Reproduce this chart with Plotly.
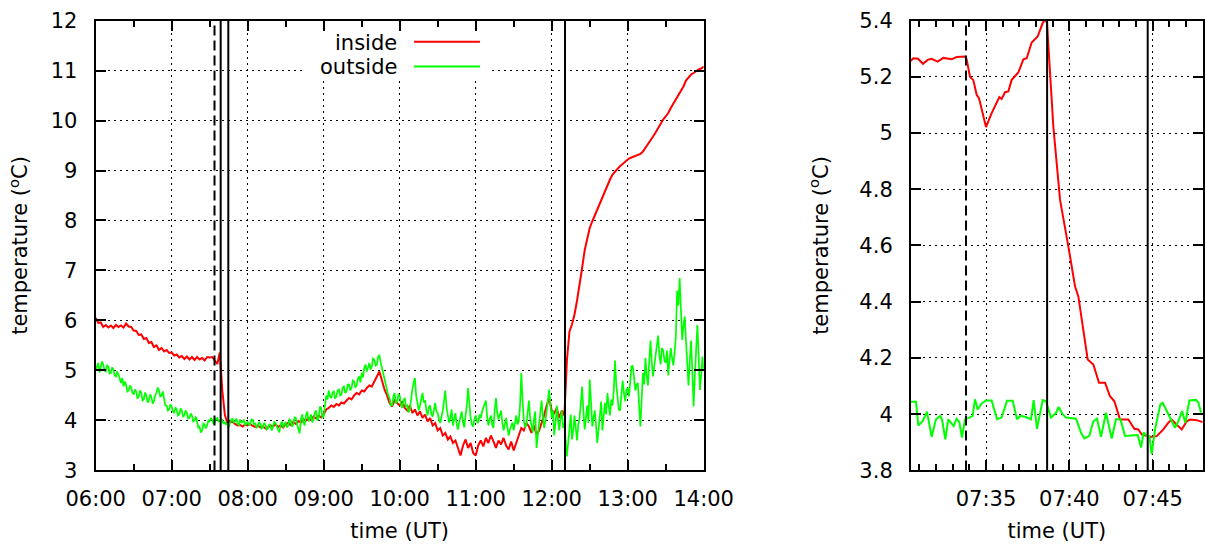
import pandas as pd
import plotly.graph_objects as go

# Serie interior: una muestra cada 2 minutos de 06:00 a 14:00 (una fila = media hora)
inicio = "2000-01-01 06:00"
paso_inside = 2
paso_outside = 1

inside = [
    6.05, 5.95, 5.96, 5.87, 5.91, 5.86, 5.90, 5.85, 5.91, 5.87, 5.90, 5.86, 5.94, 5.88, 5.87,
    5.80, 5.79, 5.71, 5.72, 5.63, 5.65, 5.55, 5.57, 5.47, 5.50, 5.41, 5.45, 5.38, 5.41, 5.35,
    5.36, 5.30, 5.32, 5.26, 5.29, 5.23, 5.28, 5.22, 5.27, 5.21, 5.27, 5.22, 5.25, 5.20, 5.27,
    5.26, 5.27, 5.19, 5.13, 5.36, 4.59, 4.11, 3.95, 3.98, 3.97, 3.93, 3.90, 3.91, 3.88, 3.92,
    3.90, 3.93, 3.89, 3.87, 3.90, 3.86, 3.88, 3.84, 3.86, 3.90, 3.88, 3.92, 3.87, 3.90, 3.86,
    3.93, 3.95, 3.91, 3.97, 3.93, 3.99, 3.96, 4.02, 4.00, 4.05, 4.01, 4.08, 4.04, 4.10, 4.06,
    4.12, 4.22, 4.25, 4.30, 4.27, 4.33, 4.30, 4.36, 4.34, 4.40, 4.45, 4.42, 4.50, 4.55, 4.52,
    4.60, 4.58, 4.65, 4.70, 4.68, 4.78, 4.85, 4.98, 4.80, 4.62, 4.50, 4.35, 4.28, 4.40, 4.35,
    4.30, 4.38, 4.25, 4.20, 4.30, 4.15, 4.22, 4.10, 4.18, 4.05, 4.12, 3.98, 4.05, 3.90, 3.95,
    3.80, 3.85, 3.70, 3.75, 3.62, 3.68, 3.55, 3.60, 3.45, 3.30, 3.50, 3.62, 3.45, 3.55, 3.35,
    3.30, 3.50, 3.60, 3.48, 3.65, 3.55, 3.70, 3.58, 3.45, 3.60, 3.52, 3.65, 3.50, 3.42, 3.58,
    3.40, 3.55, 3.70, 3.85, 3.80, 3.95, 3.88, 3.75, 3.90, 3.72, 3.80, 3.95, 4.10, 4.30, 4.45,
    4.20, 4.15, 4.25, 4.05, 4.20, 4.10, 5.20, 5.78, 5.92, 6.12, 6.40, 6.70, 7.05, 7.40, 7.65,
    7.85, 7.98, 8.10, 8.22, 8.34, 8.46, 8.60, 8.70, 8.82, 8.92, 8.98, 9.04, 9.09, 9.13, 9.18,
    9.22, 9.25, 9.27, 9.28, 9.30, 9.33, 9.38, 9.45, 9.52, 9.60, 9.68, 9.76, 9.85, 9.96, 10.02,
    10.08, 10.15, 10.25, 10.34, 10.42, 10.50, 10.58, 10.68, 10.80, 10.86, 10.92, 10.95, 10.99, 11.02, 11.04,
    11.08,
]

# Serie exterior: una muestra por minuto (una fila = media hora)
outside = [
    5.00, 5.08, 5.15, 4.96, 5.05, 5.18, 5.12, 5.00, 4.98, 5.10, 5.08, 4.94, 4.95, 5.06, 5.02,
    4.90, 4.88, 4.98, 4.92, 4.80, 4.75, 4.85, 4.68, 4.78, 4.72, 4.58, 4.60, 4.70, 4.66, 4.55,
    4.52, 4.62, 4.58, 4.44, 4.48, 4.60, 4.55, 4.40, 4.42, 4.56, 4.50, 4.36, 4.40, 4.52, 4.47,
    4.34, 4.38, 4.50, 4.55, 4.66, 4.60, 4.48, 4.50, 4.58, 4.42, 4.30, 4.30, 4.20, 4.22, 4.32,
    4.28, 4.18, 4.15, 4.26, 4.22, 4.10, 4.12, 4.24, 4.20, 4.08, 4.10, 4.20, 4.15, 4.04, 4.05,
    4.14, 4.10, 3.98, 4.00, 4.08, 3.98, 3.86, 3.88, 3.76, 3.80, 3.94, 3.92, 3.84, 3.90, 4.00,
    3.98, 4.04, 4.02, 3.94, 3.96, 4.03, 4.05, 3.98, 3.99, 4.04, 4.00, 3.93, 3.97, 3.92, 3.93,
    3.86, 3.95, 4.02, 4.03, 3.96, 3.98, 4.04, 3.94, 3.90, 4.02, 3.96, 3.96, 4.02, 3.90, 3.95,
    3.98, 3.90, 3.93, 4.02, 4.01, 3.92, 3.95, 3.86, 3.88, 3.96, 3.94, 3.84, 3.86, 3.95, 3.92,
    3.82, 3.84, 3.93, 3.90, 3.80, 3.88, 3.97, 3.95, 3.86, 3.82, 3.76, 3.92, 3.98, 3.86, 3.94,
    3.96, 3.86, 3.90, 4.02, 4.00, 3.88, 3.92, 4.06, 4.05, 3.92, 3.85, 3.74, 4.02, 4.12, 3.96,
    3.90, 4.10, 4.18, 3.98, 4.06, 4.12, 3.96, 4.02, 4.15, 4.20, 4.00, 4.05, 4.28, 4.25, 4.05,
    4.08, 4.30, 4.50, 4.42, 4.60, 4.48, 4.45, 4.56, 4.58, 4.44, 4.48, 4.60, 4.62, 4.50, 4.52,
    4.66, 4.68, 4.55, 4.58, 4.72, 4.72, 4.60, 4.65, 4.80, 4.78, 4.66, 4.70, 4.84, 4.88, 4.76,
    4.95, 4.86, 5.05, 5.12, 4.98, 5.06, 5.15, 5.02, 5.08, 5.24, 5.22, 5.10, 5.12, 5.28, 5.30,
    5.16, 5.05, 4.92, 4.85, 4.72, 4.62, 4.50, 4.45, 4.30, 4.30, 4.48, 4.55, 4.34, 4.38, 4.52,
    4.50, 4.32, 4.25, 4.40, 4.45, 4.28, 4.30, 4.16, 4.22, 4.50, 4.62, 4.75, 4.85, 4.50, 4.35,
    4.20, 4.30, 4.42, 4.55, 4.36, 4.40, 4.22, 4.10, 4.26, 4.30, 4.12, 4.08, 4.20, 4.35, 4.18,
    4.15, 4.02, 3.95, 4.08, 4.20, 4.40, 4.60, 4.25, 4.10, 3.96, 4.05, 4.22, 3.90, 4.00, 4.15,
    3.92, 3.82, 3.96, 4.05, 4.18, 3.95, 3.86, 4.10, 4.30, 4.65, 4.30, 4.05, 3.92, 3.88, 4.02,
    4.10, 3.98, 3.95, 4.12, 4.05, 4.18, 4.25, 4.32, 4.40, 4.08, 3.90, 4.02, 4.10, 3.92, 3.85,
    4.20, 4.45, 4.15, 4.02, 4.12, 4.20, 3.96, 3.80, 3.92, 4.05, 3.86, 3.70, 3.82, 3.90, 3.96,
    3.80, 3.95, 4.10, 3.92, 3.98, 4.30, 4.95, 4.40, 4.00, 3.86, 3.92, 4.15, 4.40, 4.05, 3.88,
    3.76, 4.02, 4.18, 3.45, 3.70, 3.95, 4.22, 4.40, 4.10, 3.85, 3.98, 4.20, 4.48, 4.62, 4.30,
    4.05, 4.20, 3.70, 3.95, 4.30, 4.00, 3.80, 4.05, 4.20, 3.85, 3.95, 3.60, 3.28, 3.55, 3.90,
    4.12, 3.62, 3.80, 4.10, 3.88, 3.60, 3.92, 4.05, 4.35, 4.68, 4.20, 3.82, 4.05, 4.30, 3.95,
    4.82, 4.40, 3.88, 4.05, 4.20, 3.90, 3.55, 3.82, 4.15, 4.38, 3.80, 4.05, 4.35, 4.12, 4.55,
    4.30, 4.10, 4.42, 4.30, 4.60, 5.20, 4.70, 4.45, 4.22, 4.20, 4.50, 4.80, 4.55, 4.38, 4.62,
    4.65, 4.48, 4.85, 5.08, 5.10, 4.80, 4.60, 4.72, 4.75, 4.30, 3.88, 4.40, 4.95, 4.72, 5.25,
    4.90, 4.70, 5.20, 5.60, 5.15, 4.88, 5.10, 5.35, 5.55, 5.70, 5.30, 5.12, 5.45, 5.40, 5.20,
    5.15, 5.40, 4.90, 5.20, 5.45, 5.25, 5.10, 5.35, 5.68, 6.60, 6.30, 6.85, 6.20, 5.61, 5.90,
    6.08, 5.60, 5.10, 4.70, 5.20, 5.60, 5.00, 4.28, 4.90, 5.60, 5.91, 5.30, 4.61, 4.90, 5.28,
    5.00,
]

# Detalle 07:30 - 07:48 (minutos desde las 07:30)
base_zoom = "2000-01-01 07:30"
zoom_t_inside = [
    0.44, 0.64, 0.92, 1.22, 1.5, 1.74, 2.1, 2.44, 2.94, 3.24,
    3.74, 3.84, 4.04, 4.24, 4.44, 4.58, 5.0, 5.34, 5.8, 5.94,
    6.14, 6.34, 6.54, 6.94, 7.24, 7.44, 7.74, 8.1, 8.4, 8.54,
    8.66, 9.04, 9.44, 9.7, 9.94, 10.34, 10.54, 11.1, 11.44, 11.78,
    12.14, 12.44, 12.7, 13.04, 13.54, 13.9, 14.14, 14.34, 14.84, 15.24,
    15.64, 15.94, 16.14, 16.44, 16.74, 17.04, 17.24, 17.64, 18.0,
]
zoom_inside = [
    5.254, 5.266, 5.264, 5.246, 5.26, 5.264, 5.254, 5.267, 5.262, 5.27,
    5.272, 5.262, 5.2, 5.188, 5.136, 5.124, 5.021, 5.071, 5.128, 5.121,
    5.145, 5.148, 5.189, 5.215, 5.262, 5.266, 5.322, 5.343, 5.391, 5.405,
    5.39, 5.023, 4.763, 4.668, 4.597, 4.455, 4.419, 4.195, 4.177, 4.112,
    4.112, 4.064, 4.046, 3.981, 3.981, 3.948, 3.946, 3.928, 3.919, 3.922,
    3.946, 3.97, 3.981, 3.963, 3.946, 3.975, 3.981, 3.979, 3.972,
]
zoom_t_outside = [
    0.45, 0.8, 0.94, 1.2, 1.46, 1.74, 2.0, 2.26, 2.36, 2.56,
    2.74, 2.9, 3.06, 3.24, 3.4, 3.56, 3.74, 4.0, 4.2, 4.34,
    4.5, 4.74, 5.0, 5.34, 5.66, 5.94, 6.26, 6.6, 6.86, 7.06,
    7.34, 7.7, 7.86, 8.06, 8.4, 8.6, 8.9, 9.2, 9.36, 9.54,
    9.8, 10.4, 10.7, 10.9, 11.2, 11.44, 11.66, 11.9, 12.2, 12.54,
    12.8, 13.06, 13.34, 14.1, 14.3, 14.46, 14.64, 14.8, 14.94, 15.14,
    15.46, 15.6, 16.1, 16.34, 16.54, 16.76, 16.96, 17.2, 17.6, 17.74,
    17.9,
]
zoom_outside = [
    4.044, 4.044, 3.96, 3.975, 4.009, 3.92, 3.982, 3.994, 3.982, 3.911,
    3.982, 3.97, 3.958, 3.984, 3.972, 3.917, 3.982, 3.988, 3.994, 4.053,
    4.017, 4.038, 4.049, 4.049, 3.982, 3.988, 4.048, 4.048, 3.982, 3.994,
    3.991, 3.982, 4.05, 3.948, 4.05, 4.046, 3.988, 4.005, 4.026, 4.005,
    3.988, 3.984, 3.935, 3.914, 3.923, 3.975, 3.984, 3.92, 4.005, 3.914,
    3.982, 3.982, 3.923, 3.926, 3.882, 3.935, 3.923, 3.923, 3.858, 3.946,
    4.035, 4.041, 3.982, 3.952, 3.975, 4.011, 3.97, 4.049, 4.051, 4.041,
    4.005,
]

# Marcas verticales de eventos
eventos = ["07:33:48", "07:38:40", "07:44:42", "12:10:30"]
eventos_estilo = ["10px,5px", "solid", "solid", "solid"]

fuente = "DejaVu Sans"
rojo = "#ff0000"
verde = "#00ff00"
dia = "2000-01-01 "

t_inside = pd.date_range(inicio, periods=len(inside), freq=f"{paso_inside}min")
t_outside = pd.date_range(inicio, periods=len(outside), freq=f"{paso_outside}min")
t_in = pd.Timestamp(base_zoom) + pd.to_timedelta(zoom_t_inside, unit="min")
t_out = pd.Timestamp(base_zoom) + pd.to_timedelta(zoom_t_outside, unit="min")

fig = go.Figure()

fig.add_trace(go.Scatter(x=t_inside, y=inside, mode="lines", name="inside",
                         line=dict(color=rojo, width=2), xaxis="x", yaxis="y"))
fig.add_trace(go.Scatter(x=t_outside, y=outside, mode="lines", name="outside",
                         line=dict(color=verde, width=1.7), xaxis="x", yaxis="y"))
fig.add_trace(go.Scatter(x=t_in, y=zoom_inside, mode="lines", name="inside",
                         line=dict(color=rojo, width=2), xaxis="x2", yaxis="y2"))
fig.add_trace(go.Scatter(x=t_out, y=zoom_outside, mode="lines", name="outside",
                         line=dict(color=verde, width=2), xaxis="x2", yaxis="y2"))

# Estilo tipo gnuplot: marco negro, ticks hacia dentro, rejilla punteada
eje = dict(
    showline=True, linecolor="black", linewidth=2, mirror="ticks",
    ticks="inside", ticklen=10, tickwidth=2, tickcolor="black",
    showgrid=True, gridcolor="black", gridwidth=1, griddash="2px,4px",
    zeroline=False, automargin=False,
    tickfont=dict(family=fuente, size=21, color="black"),
)
titulo = dict(family=fuente, size=21, color="black")
dominio_y = [0.1399, 0.9625]

fig.update_layout(
    width=1205, height=547,
    margin=dict(l=0, r=0, t=0, b=0),
    paper_bgcolor="white", plot_bgcolor="white",
    showlegend=False,
    font=dict(family=fuente, size=21, color="black"),
    xaxis=dict(eje, domain=[0.0794, 0.5840], anchor="y", type="date",
               range=[dia + "06:00", dia + "14:00"],
               tick0=dia + "06:00", dtick=3600000, tickformat="%H:%M",
               ticklabelstandoff=8,
               minor=dict(dtick=1800000, ticks="inside", ticklen=6, tickwidth=2,
                          tickcolor="black", showgrid=False),
               title=dict(text="time (UT)", font=titulo, standoff=14)),
    yaxis=dict(eje, domain=dominio_y, anchor="x", range=[3, 12], dtick=1,
               ticklabelstandoff=12,
               title=dict(text="temperature (<sup>o</sup>C)", font=titulo, standoff=17)),
    xaxis2=dict(eje, domain=[0.7560, 0.9981], anchor="y2", type="date",
                range=[dia + "07:30:30", dia + "07:48:00"],
                tick0=dia + "07:00", dtick=300000, tickformat="%H:%M",
                ticklabelstandoff=8,
                minor=dict(dtick=60000, ticks="inside", ticklen=6, tickwidth=2,
                           tickcolor="black", showgrid=False),
                title=dict(text="time (UT)", font=titulo, standoff=14)),
    yaxis2=dict(eje, domain=dominio_y, anchor="x2", range=[3.8, 5.4], dtick=0.2,
                ticklabelstandoff=12,
                title=dict(text="temperature (<sup>o</sup>C)", font=titulo, standoff=25)),
)

# Lineas verticales en los dos paneles
for hora, estilo in zip(eventos, eventos_estilo):
    t = pd.Timestamp(dia + hora)
    for xr, yr, ini, fin in [("x", "y", "06:00", "14:00"), ("x2", "y2", "07:30:30", "07:48:00")]:
        if pd.Timestamp(dia + ini) < t < pd.Timestamp(dia + fin):
            fig.add_shape(type="line", xref=xr, yref=f"{yr} domain",
                          x0=t, x1=t, y0=0, y1=1, layer="above",
                          line=dict(color="black", width=2, dash=estilo))

# Leyenda estilo gnuplot (texto a la izquierda, muestra a la derecha)
# caja blanca que tapa la rejilla (por debajo de las curvas y los ticks)
fig.add_shape(type="rect", xref="x", yref="y",
              x0=dia + "08:43:40", x1=dia + "11:12:50", y0=10.81, y1=11.98,
              fillcolor="white", line=dict(width=0), layer="between")
for nombre, color, yy in [("inside", rojo, 0.951), ("outside", verde, 0.896)]:
    fig.add_annotation(text=nombre, xref="x domain", yref="y domain",
                       x=0.4993, y=yy, xanchor="right", yanchor="middle",
                       showarrow=False, font=dict(family=fuente, size=21, color="black"))
    fig.add_shape(type="line", xref="x domain", yref="y domain",
                  x0=0.5235, x1=0.632, y0=yy + 0.002, y1=yy + 0.002,
                  layer="above", line=dict(color=color, width=2))

# sin margen del body para que la figura ocupe exactamente la ventana
fig.write_html("out.html", config={"displayModeBar": False},
               post_script="document.body.style.margin = '0';")
